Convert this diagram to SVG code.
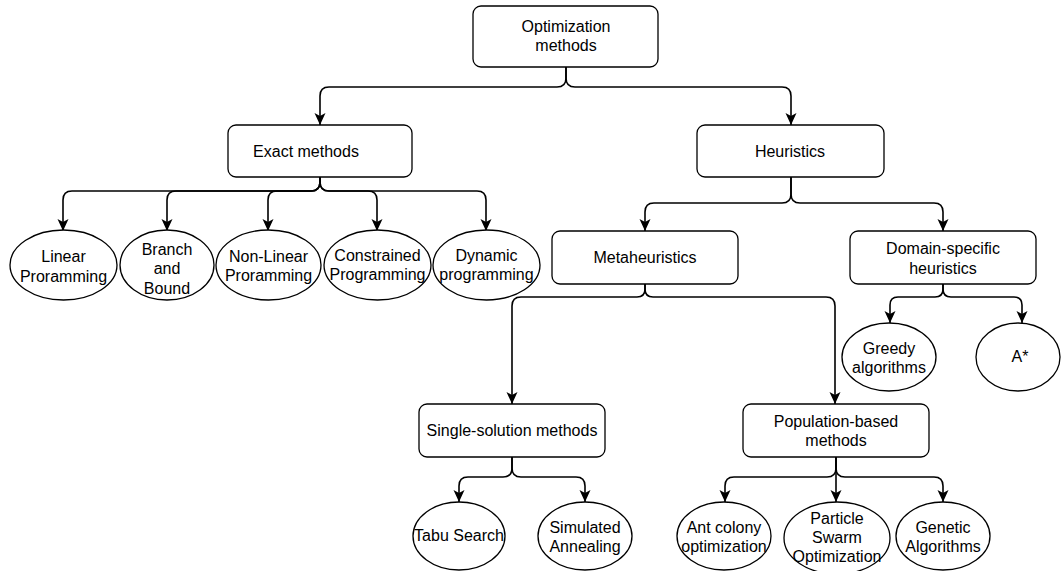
<svg xmlns="http://www.w3.org/2000/svg" width="1061" height="571" viewBox="0 0 1061 571">
<style>
.box{fill:#fff;stroke:#000;stroke-width:1.3}
.el{fill:#fff;stroke:#000;stroke-width:1.3}
.t{font-family:"Liberation Sans",Arial,sans-serif;font-size:16px;fill:#000;text-anchor:middle;dominant-baseline:central}
.c{fill:none;stroke:#000;stroke-width:1.6;marker-end:url(#ah)}
</style>
<defs>
<marker id="ah" markerUnits="userSpaceOnUse" markerWidth="13" markerHeight="12" viewBox="0 0 13 12" refX="12" refY="6" orient="auto">
<path d="M0,0.5 L12,6 L0,11.5 L3,6 Z" fill="#000"/>
</marker>
</defs>
<rect width="1061" height="571" fill="#fff"/>
<g id="connectors">
<path class="c" d="M566,67 V78 Q566,87 557,87 H329 Q320,87 320,96 V125"/>
<path class="c" d="M566,67 V78 Q566,87 575,87 H782 Q791,87 791,96 V125"/>
<path class="c" d="M320,177 V182 Q320,191 311,191 H72 Q63,191 63,200 V231"/>
<path class="c" d="M320,177 V182 Q320,191 311,191 H176 Q167,191 167,200 V231"/>
<path class="c" d="M320,177 V182 Q320,191 311,191 H277 Q268,191 268,200 V231"/>
<path class="c" d="M320,177 V182 Q320,191 329,191 H368 Q377,191 377,200 V231"/>
<path class="c" d="M320,177 V182 Q320,191 329,191 H477 Q486,191 486,200 V231"/>
<path class="c" d="M791,177 V194 Q791,203 782,203 H654 Q645,203 645,212 V231"/>
<path class="c" d="M791,177 V194 Q791,203 800,203 H934 Q943,203 943,212 V231"/>
<path class="c" d="M943,284 V289 Q943,297 935,297 H898 Q890,297 890,305 V323"/>
<path class="c" d="M943,284 V289 Q943,297 951,297 H1014 Q1022,297 1022,305 V323"/>
<path class="c" d="M645,284 V289 Q645,297 637,297 H521 Q512,297 512,306 V404"/>
<path class="c" d="M645,284 V289 Q645,297 653,297 H826 Q835,297 835,306 V404"/>
<path class="c" d="M512,457 V468 Q512,477 503,477 H468 Q459,477 459,486 V502"/>
<path class="c" d="M512,457 V468 Q512,477 521,477 H576 Q585,477 585,486 V502"/>
<path class="c" d="M836,457 V468 Q836,477 827,477 H734 Q725,477 725,486 V502"/>
<path class="c" d="M836,457 V502"/>
<path class="c" d="M836,457 V468 Q836,477 845,477 H934 Q943,477 943,486 V502"/>
</g>
<g id="optimization-methods">
<rect class="box" x="473" y="6" width="185" height="61" rx="8"/>
<text class="t" x="566" y="26">Optimization</text>
<text class="t" x="566" y="45">methods</text>
</g>
<g id="exact-methods">
<rect class="box" x="228" y="125" width="184" height="52" rx="8"/>
<text class="t" x="306" y="151">Exact methods</text>
</g>
<g id="heuristics">
<rect class="box" x="697" y="125" width="187" height="52" rx="8"/>
<text class="t" x="790" y="151">Heuristics</text>
</g>
<g id="linear-programming">
<ellipse class="el" cx="63.5" cy="265" rx="53.5" ry="35"/>
<text class="t" x="63.5" y="256">Linear</text>
<text class="t" x="63.5" y="276">Proramming</text>
</g>
<g id="branch-and-bound">
<ellipse class="el" cx="167" cy="265" rx="47" ry="35"/>
<text class="t" x="167" y="249">Branch</text>
<text class="t" x="167" y="268">and</text>
<text class="t" x="167" y="288">Bound</text>
</g>
<g id="non-linear-programming">
<ellipse class="el" cx="268.5" cy="265" rx="52.5" ry="35"/>
<text class="t" x="268.5" y="256">Non-Linear</text>
<text class="t" x="268.5" y="275">Proramming</text>
</g>
<g id="constrained-programming">
<ellipse class="el" cx="377.5" cy="265" rx="53.5" ry="35"/>
<text class="t" x="377.5" y="255">Constrained</text>
<text class="t" x="377.5" y="274">Programming</text>
</g>
<g id="dynamic-programming">
<ellipse class="el" cx="486.5" cy="265" rx="53.5" ry="35"/>
<text class="t" x="486.5" y="255">Dynamic</text>
<text class="t" x="486.5" y="274">programming</text>
</g>
<g id="metaheuristics">
<rect class="box" x="552" y="231" width="186" height="53" rx="8"/>
<text class="t" x="645" y="257">Metaheuristics</text>
</g>
<g id="domain-specific-heuristics">
<rect class="box" x="850" y="231" width="186" height="53" rx="8"/>
<text class="t" x="943" y="248">Domain-specific</text>
<text class="t" x="943" y="268">heuristics</text>
</g>
<g id="greedy-algorithms">
<ellipse class="el" cx="889" cy="357" rx="47" ry="34"/>
<text class="t" x="889" y="348">Greedy</text>
<text class="t" x="889" y="367">algorithms</text>
</g>
<g id="a-star">
<ellipse class="el" cx="1018" cy="357" rx="42" ry="34"/>
<text class="t" x="1020" y="356">A*</text>
</g>
<g id="single-solution-methods">
<rect class="box" x="419" y="404" width="186" height="53" rx="8"/>
<text class="t" x="512" y="430">Single-solution methods</text>
</g>
<g id="population-based-methods">
<rect class="box" x="743" y="404" width="186" height="53" rx="8"/>
<text class="t" x="836" y="421">Population-based</text>
<text class="t" x="836" y="440">methods</text>
</g>
<g id="tabu-search">
<ellipse class="el" cx="459" cy="536" rx="46" ry="34"/>
<text class="t" x="459" y="535">Tabu Search</text>
</g>
<g id="simulated-annealing">
<ellipse class="el" cx="585" cy="536" rx="47" ry="34"/>
<text class="t" x="585" y="527">Simulated</text>
<text class="t" x="585" y="546">Annealing</text>
</g>
<g id="ant-colony-optimization">
<ellipse class="el" cx="724" cy="536" rx="47" ry="34"/>
<text class="t" x="724" y="527">Ant colony</text>
<text class="t" x="724" y="546">optimization</text>
</g>
<g id="particle-swarm-optimization">
<ellipse class="el" cx="837" cy="538" rx="53" ry="36"/>
<text class="t" x="837" y="518">Particle</text>
<text class="t" x="837" y="537">Swarm</text>
<text class="t" x="837" y="556">Optimization</text>
</g>
<g id="genetic-algorithms">
<ellipse class="el" cx="943" cy="536" rx="47" ry="34"/>
<text class="t" x="943" y="527">Genetic</text>
<text class="t" x="943" y="546">Algorithms</text>
</g>
</svg>
